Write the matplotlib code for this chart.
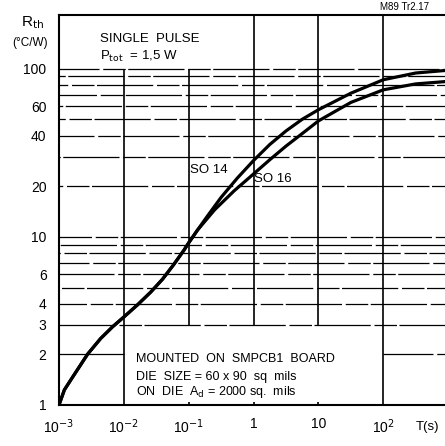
import matplotlib
matplotlib.use("Agg")
import matplotlib.pyplot as plt

plt.rcParams["font.family"] = ["Liberation Sans", "DejaVu Sans"]
plt.rcParams["mathtext.fontset"] = "dejavusans"

# values (T in s, Rth in C/W)
t_common = [1e-3, 1.21e-3, 1.63e-3, 2.77e-3, 4.4e-3, 6.7e-3, 0.0101, 0.0163, 0.026,
            0.0394, 0.0594, 0.0848, 0.1, 0.136]
r_common = [1.0, 1.23, 1.47, 2.01, 2.49, 2.92, 3.35, 3.95, 4.7,
            5.6, 6.89, 8.36, 9.23, 10.96]

t_so14 = [0.194, 0.316, 0.562, 1.0, 1.78, 3.16, 5.62, 10, 31.6, 100, 316, 891]
r_so14 = [13.3, 17.2, 22.4, 28.5, 35.5, 42.7, 50.1, 57.1, 71.6, 86.1, 94.4, 97.7]

t_so16 = [0.251, 0.501, 1.0, 1.78, 3.16, 5.62, 10, 31.6, 100, 316, 891]
r_so16 = [14.5, 18.8, 23.7, 28.8, 34.7, 41.2, 49.0, 63.1, 75.0, 81.3, 83.9]

x_ticks = [1e-3, 1e-2, 1e-1, 1, 10, 100]
x_labels = ["10$^{-3}$", "10$^{-2}$", "10$^{-1}$", "1", "10", "10$^{2}$"]
y_ticks = [1, 2, 3, 4, 6, 10, 20, 40, 60, 100]
y_labels = ["1", "2", "3", "4", "6", "10", "20", "40", "60", "100"]

xmax = 10 ** 2.95
ymax = 10 ** 2.32

fig = plt.figure(figsize=(4.45, 4.46), dpi=100)
ax = fig.add_axes([59 / 445, 41 / 446, 1 - 59 / 445, 390 / 446])
ax.set_xscale("log")
ax.set_yscale("log")
ax.set_xlim(1e-3, xmax)
ax.set_ylim(1, ymax)

# mostly solid horizontal grid with small breaks, like the printed sheet
h_vals = [3, 4, 5, 6, 7, 8, 9, 10, 20, 30, 40, 50, 60, 70, 80, 90, 100]
for i, v in enumerate(h_vals):
    ls = ((i * 23) % 71, (45, 3, 18, 2))
    ax.hlines(v, 1e-3, xmax, colors="black", lw=0.9, linestyles=[ls])
ax.hlines(2, 1e-3, 1e-2, colors="black", lw=0.9)
ax.hlines(2, 100, xmax, colors="black", lw=0.9, linestyles=[(5, (45, 3, 18, 2))])

# vertical decade lines, interrupted by the two text boxes
ax.vlines(1e-2, 1, 100, colors="black", lw=1.2)
ax.vlines(1e-1, 3, 100, colors="black", lw=1.2)
ax.vlines([1, 10], 3, ymax, colors="black", lw=1.2)
ax.vlines(100, 1, ymax, colors="black", lw=1.2)
ax.vlines([1e-1, 1, 10], 1, 1.04, colors="black", lw=1.2)

ax.plot(t_common + t_so14, r_common + r_so14, color="black", lw=2.3,
        solid_capstyle="round", solid_joinstyle="round")
ax.plot(t_common + t_so16, r_common + r_so16, color="black", lw=2.3,
        solid_capstyle="round", solid_joinstyle="round")

ax.set_xticks(x_ticks)
ax.set_xticklabels(x_labels)
ax.set_yticks(y_ticks)
ax.set_yticklabels(y_labels)
ax.minorticks_off()
ax.tick_params(length=0, labelsize=10)
ax.tick_params(axis="x", pad=9)
ax.tick_params(axis="y", pad=9)

for side in ["left", "top", "bottom"]:
    ax.spines[side].set_linewidth(1.5)
ax.spines["right"].set_visible(False)

ax.text(4.3e-3, 150, "SINGLE  PULSE", fontsize=9.5, va="center")
ax.text(4.3e-3, 118, "P$_{\\mathrm{tot}}$  = 1,5 W", fontsize=9.5, va="center")
ax.text(0.105, 25, "SO 14", fontsize=9.5, va="center")
ax.text(1.0, 22, "SO 16", fontsize=9.5, va="center")
ax.text(0.0155, 1.87, "MOUNTED  ON  SMPCB1  BOARD", fontsize=9, va="center")
ax.text(0.0155, 1.47, "DIE  SIZE = 60 x 90  sq  mils", fontsize=9, va="center")
ax.text(0.0155, 1.19, "ON  DIE  A$_{\\mathrm{d}}$ = 2000 sq.  mils", fontsize=9, va="center")

fig.text(33 / 445, 1 - 23 / 446, "R$_{\\mathrm{th}}$", fontsize=11, ha="center", va="center")
fig.text(30 / 445, 1 - 43 / 446, "(°C/W)", fontsize=8.5, ha="center", va="center")
fig.text(428 / 445, 1 - 427 / 446, "T(s)", fontsize=9.5, ha="center", va="center")
fig.text(405 / 445, 1 - 7 / 446, "M89 Tr2.17", fontsize=7, ha="center", va="center")

fig.savefig("out.png", dpi=100)
